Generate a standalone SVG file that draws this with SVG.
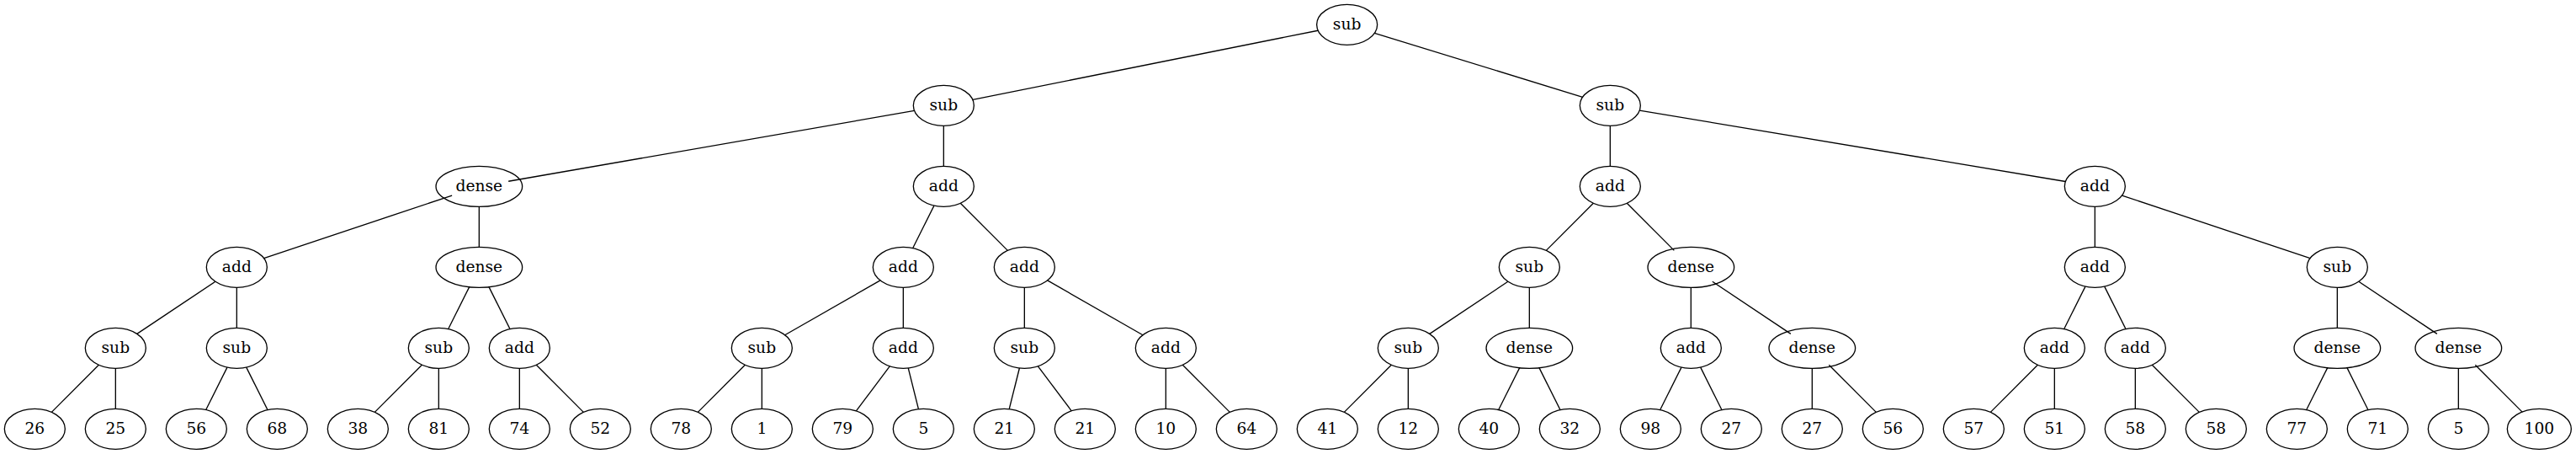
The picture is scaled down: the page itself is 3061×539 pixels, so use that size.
<svg xmlns="http://www.w3.org/2000/svg" width="3061" height="539" viewBox="0 0 3061 539">
<style>
ellipse{fill:none;stroke:#000;stroke-width:1.33}
text{font-family:"DejaVu Serif","Liberation Serif",serif;font-size:18.67px;text-anchor:middle;fill:#000}
#edges line{stroke:#000;stroke-width:1.33}
</style>
<rect width="3061" height="539" fill="#fff"/>
<g transform="translate(0.33 29.33)">
<g id="edges">
<line x1="1565.82" y1="6.91" x2="1155.48" y2="89.09"/>
<line x1="1633" y1="10.04" x2="1880.3" y2="85.96"/>
<line x1="1086.17" y1="102.06" x2="603.83" y2="185.94"/>
<line x1="1121" y1="120" x2="1121" y2="168"/>
<line x1="1913" y1="120" x2="1913" y2="168"/>
<line x1="1947.93" y1="101.82" x2="2454.07" y2="186.18"/>
<line x1="536.8" y1="202.73" x2="313.2" y2="277.27"/>
<line x1="569" y1="216" x2="569" y2="264"/>
<line x1="1109.62" y1="214.77" x2="1084.38" y2="265.23"/>
<line x1="1140.97" y1="211.97" x2="1197.03" y2="268.03"/>
<line x1="1893.03" y1="211.97" x2="1836.97" y2="268.03"/>
<line x1="1932.97" y1="211.97" x2="1989.03" y2="268.03"/>
<line x1="2489" y1="216" x2="2489" y2="264"/>
<line x1="2521.2" y1="202.73" x2="2744.8" y2="277.27"/>
<line x1="255.54" y1="304.97" x2="162.46" y2="367.03"/>
<line x1="281" y1="312" x2="281" y2="360"/>
<line x1="557.62" y1="310.77" x2="532.38" y2="361.23"/>
<line x1="580.38" y1="310.77" x2="605.62" y2="361.23"/>
<line x1="1045.67" y1="303.62" x2="932.33" y2="368.38"/>
<line x1="1073" y1="312" x2="1073" y2="360"/>
<line x1="1217" y1="312" x2="1217" y2="360"/>
<line x1="1244.33" y1="303.62" x2="1357.67" y2="368.38"/>
<line x1="1791.54" y1="304.97" x2="1698.46" y2="367.03"/>
<line x1="1817" y1="312" x2="1817" y2="360"/>
<line x1="2009" y1="312" x2="2009" y2="360"/>
<line x1="2034.46" y1="304.97" x2="2127.54" y2="367.03"/>
<line x1="2477.62" y1="310.77" x2="2452.38" y2="361.23"/>
<line x1="2500.38" y1="310.77" x2="2525.62" y2="361.23"/>
<line x1="2777" y1="312" x2="2777" y2="360"/>
<line x1="2802.46" y1="304.97" x2="2895.54" y2="367.03"/>
<line x1="117.03" y1="403.97" x2="60.97" y2="460.03"/>
<line x1="137" y1="408" x2="137" y2="456"/>
<line x1="269.62" y1="406.77" x2="244.38" y2="457.23"/>
<line x1="292.38" y1="406.77" x2="317.62" y2="457.23"/>
<line x1="501.03" y1="403.97" x2="444.97" y2="460.03"/>
<line x1="521" y1="408" x2="521" y2="456"/>
<line x1="617" y1="408" x2="617" y2="456"/>
<line x1="636.97" y1="403.97" x2="693.03" y2="460.03"/>
<line x1="885.03" y1="403.97" x2="828.97" y2="460.03"/>
<line x1="905" y1="408" x2="905" y2="456"/>
<line x1="1056.9" y1="405.47" x2="1017.1" y2="458.53"/>
<line x1="1078.92" y1="407.67" x2="1091.08" y2="456.33"/>
<line x1="1211.08" y1="407.67" x2="1198.92" y2="456.33"/>
<line x1="1233.1" y1="405.47" x2="1272.9" y2="458.53"/>
<line x1="1385" y1="408" x2="1385" y2="456"/>
<line x1="1404.97" y1="403.97" x2="1461.03" y2="460.03"/>
<line x1="1653.03" y1="403.97" x2="1596.97" y2="460.03"/>
<line x1="1673" y1="408" x2="1673" y2="456"/>
<line x1="1805.62" y1="406.77" x2="1780.38" y2="457.23"/>
<line x1="1828.38" y1="406.77" x2="1853.62" y2="457.23"/>
<line x1="1997.62" y1="406.77" x2="1972.38" y2="457.23"/>
<line x1="2020.38" y1="406.77" x2="2045.62" y2="457.23"/>
<line x1="2153" y1="408" x2="2153" y2="456"/>
<line x1="2172.97" y1="403.97" x2="2229.03" y2="460.03"/>
<line x1="2421.03" y1="403.97" x2="2364.97" y2="460.03"/>
<line x1="2441" y1="408" x2="2441" y2="456"/>
<line x1="2537" y1="408" x2="2537" y2="456"/>
<line x1="2556.97" y1="403.97" x2="2613.03" y2="460.03"/>
<line x1="2765.62" y1="406.77" x2="2740.38" y2="457.23"/>
<line x1="2788.38" y1="406.77" x2="2813.62" y2="457.23"/>
<line x1="2921" y1="408" x2="2921" y2="456"/>
<line x1="2940.97" y1="403.97" x2="2997.03" y2="460.03"/>
</g>
<g id="n0"><ellipse cx="1600.3" cy="0" rx="36" ry="24"/><text x="1600.3" y="5.6">sub</text></g>
<g id="n1"><ellipse cx="1121" cy="96" rx="36" ry="24"/><text x="1121" y="101.6">sub</text></g>
<g id="n2"><ellipse cx="1913" cy="96" rx="36" ry="24"/><text x="1913" y="101.6">sub</text></g>
<g id="n3"><ellipse cx="569" cy="192" rx="51.3" ry="24"/><text x="569" y="197.6">dense</text></g>
<g id="n4"><ellipse cx="1121" cy="192" rx="36" ry="24"/><text x="1121" y="197.6">add</text></g>
<g id="n5"><ellipse cx="1913" cy="192" rx="36" ry="24"/><text x="1913" y="197.6">add</text></g>
<g id="n6"><ellipse cx="2489" cy="192" rx="36" ry="24"/><text x="2489" y="197.6">add</text></g>
<g id="n7"><ellipse cx="281" cy="288" rx="36" ry="24"/><text x="281" y="293.6">add</text></g>
<g id="n8"><ellipse cx="569" cy="288" rx="51.3" ry="24"/><text x="569" y="293.6">dense</text></g>
<g id="n9"><ellipse cx="1073" cy="288" rx="36" ry="24"/><text x="1073" y="293.6">add</text></g>
<g id="n10"><ellipse cx="1217" cy="288" rx="36" ry="24"/><text x="1217" y="293.6">add</text></g>
<g id="n11"><ellipse cx="1817" cy="288" rx="36" ry="24"/><text x="1817" y="293.6">sub</text></g>
<g id="n12"><ellipse cx="2009" cy="288" rx="51.3" ry="24"/><text x="2009" y="293.6">dense</text></g>
<g id="n13"><ellipse cx="2489" cy="288" rx="36" ry="24"/><text x="2489" y="293.6">add</text></g>
<g id="n14"><ellipse cx="2777" cy="288" rx="36" ry="24"/><text x="2777" y="293.6">sub</text></g>
<g id="n15"><ellipse cx="137" cy="384" rx="36" ry="24"/><text x="137" y="389.6">sub</text></g>
<g id="n16"><ellipse cx="281" cy="384" rx="36" ry="24"/><text x="281" y="389.6">sub</text></g>
<g id="n17"><ellipse cx="521" cy="384" rx="36" ry="24"/><text x="521" y="389.6">sub</text></g>
<g id="n18"><ellipse cx="617" cy="384" rx="36" ry="24"/><text x="617" y="389.6">add</text></g>
<g id="n19"><ellipse cx="905" cy="384" rx="36" ry="24"/><text x="905" y="389.6">sub</text></g>
<g id="n20"><ellipse cx="1073" cy="384" rx="36" ry="24"/><text x="1073" y="389.6">add</text></g>
<g id="n21"><ellipse cx="1217" cy="384" rx="36" ry="24"/><text x="1217" y="389.6">sub</text></g>
<g id="n22"><ellipse cx="1385" cy="384" rx="36" ry="24"/><text x="1385" y="389.6">add</text></g>
<g id="n23"><ellipse cx="1673" cy="384" rx="36" ry="24"/><text x="1673" y="389.6">sub</text></g>
<g id="n24"><ellipse cx="1817" cy="384" rx="51.3" ry="24"/><text x="1817" y="389.6">dense</text></g>
<g id="n25"><ellipse cx="2009" cy="384" rx="36" ry="24"/><text x="2009" y="389.6">add</text></g>
<g id="n26"><ellipse cx="2153" cy="384" rx="51.3" ry="24"/><text x="2153" y="389.6">dense</text></g>
<g id="n27"><ellipse cx="2441" cy="384" rx="36" ry="24"/><text x="2441" y="389.6">add</text></g>
<g id="n28"><ellipse cx="2537" cy="384" rx="36" ry="24"/><text x="2537" y="389.6">add</text></g>
<g id="n29"><ellipse cx="2777" cy="384" rx="51.3" ry="24"/><text x="2777" y="389.6">dense</text></g>
<g id="n30"><ellipse cx="2921" cy="384" rx="51.3" ry="24"/><text x="2921" y="389.6">dense</text></g>
<g id="l0"><ellipse cx="41" cy="480" rx="36" ry="24"/><text x="41" y="485.6">26</text></g>
<g id="l1"><ellipse cx="137" cy="480" rx="36" ry="24"/><text x="137" y="485.6">25</text></g>
<g id="l2"><ellipse cx="233" cy="480" rx="36" ry="24"/><text x="233" y="485.6">56</text></g>
<g id="l3"><ellipse cx="329" cy="480" rx="36" ry="24"/><text x="329" y="485.6">68</text></g>
<g id="l4"><ellipse cx="425" cy="480" rx="36" ry="24"/><text x="425" y="485.6">38</text></g>
<g id="l5"><ellipse cx="521" cy="480" rx="36" ry="24"/><text x="521" y="485.6">81</text></g>
<g id="l6"><ellipse cx="617" cy="480" rx="36" ry="24"/><text x="617" y="485.6">74</text></g>
<g id="l7"><ellipse cx="713" cy="480" rx="36" ry="24"/><text x="713" y="485.6">52</text></g>
<g id="l8"><ellipse cx="809" cy="480" rx="36" ry="24"/><text x="809" y="485.6">78</text></g>
<g id="l9"><ellipse cx="905" cy="480" rx="36" ry="24"/><text x="905" y="485.6">1</text></g>
<g id="l10"><ellipse cx="1001" cy="480" rx="36" ry="24"/><text x="1001" y="485.6">79</text></g>
<g id="l11"><ellipse cx="1097" cy="480" rx="36" ry="24"/><text x="1097" y="485.6">5</text></g>
<g id="l12"><ellipse cx="1193" cy="480" rx="36" ry="24"/><text x="1193" y="485.6">21</text></g>
<g id="l13"><ellipse cx="1289" cy="480" rx="36" ry="24"/><text x="1289" y="485.6">21</text></g>
<g id="l14"><ellipse cx="1385" cy="480" rx="36" ry="24"/><text x="1385" y="485.6">10</text></g>
<g id="l15"><ellipse cx="1481" cy="480" rx="36" ry="24"/><text x="1481" y="485.6">64</text></g>
<g id="l16"><ellipse cx="1577" cy="480" rx="36" ry="24"/><text x="1577" y="485.6">41</text></g>
<g id="l17"><ellipse cx="1673" cy="480" rx="36" ry="24"/><text x="1673" y="485.6">12</text></g>
<g id="l18"><ellipse cx="1769" cy="480" rx="36" ry="24"/><text x="1769" y="485.6">40</text></g>
<g id="l19"><ellipse cx="1865" cy="480" rx="36" ry="24"/><text x="1865" y="485.6">32</text></g>
<g id="l20"><ellipse cx="1961" cy="480" rx="36" ry="24"/><text x="1961" y="485.6">98</text></g>
<g id="l21"><ellipse cx="2057" cy="480" rx="36" ry="24"/><text x="2057" y="485.6">27</text></g>
<g id="l22"><ellipse cx="2153" cy="480" rx="36" ry="24"/><text x="2153" y="485.6">27</text></g>
<g id="l23"><ellipse cx="2249" cy="480" rx="36" ry="24"/><text x="2249" y="485.6">56</text></g>
<g id="l24"><ellipse cx="2345" cy="480" rx="36" ry="24"/><text x="2345" y="485.6">57</text></g>
<g id="l25"><ellipse cx="2441" cy="480" rx="36" ry="24"/><text x="2441" y="485.6">51</text></g>
<g id="l26"><ellipse cx="2537" cy="480" rx="36" ry="24"/><text x="2537" y="485.6">58</text></g>
<g id="l27"><ellipse cx="2633" cy="480" rx="36" ry="24"/><text x="2633" y="485.6">58</text></g>
<g id="l28"><ellipse cx="2729" cy="480" rx="36" ry="24"/><text x="2729" y="485.6">77</text></g>
<g id="l29"><ellipse cx="2825" cy="480" rx="36" ry="24"/><text x="2825" y="485.6">71</text></g>
<g id="l30"><ellipse cx="2921" cy="480" rx="36" ry="24"/><text x="2921" y="485.6">5</text></g>
<g id="l31"><ellipse cx="3017" cy="480" rx="38" ry="24"/><text x="3017" y="485.6">100</text></g>
</g>
</svg>
